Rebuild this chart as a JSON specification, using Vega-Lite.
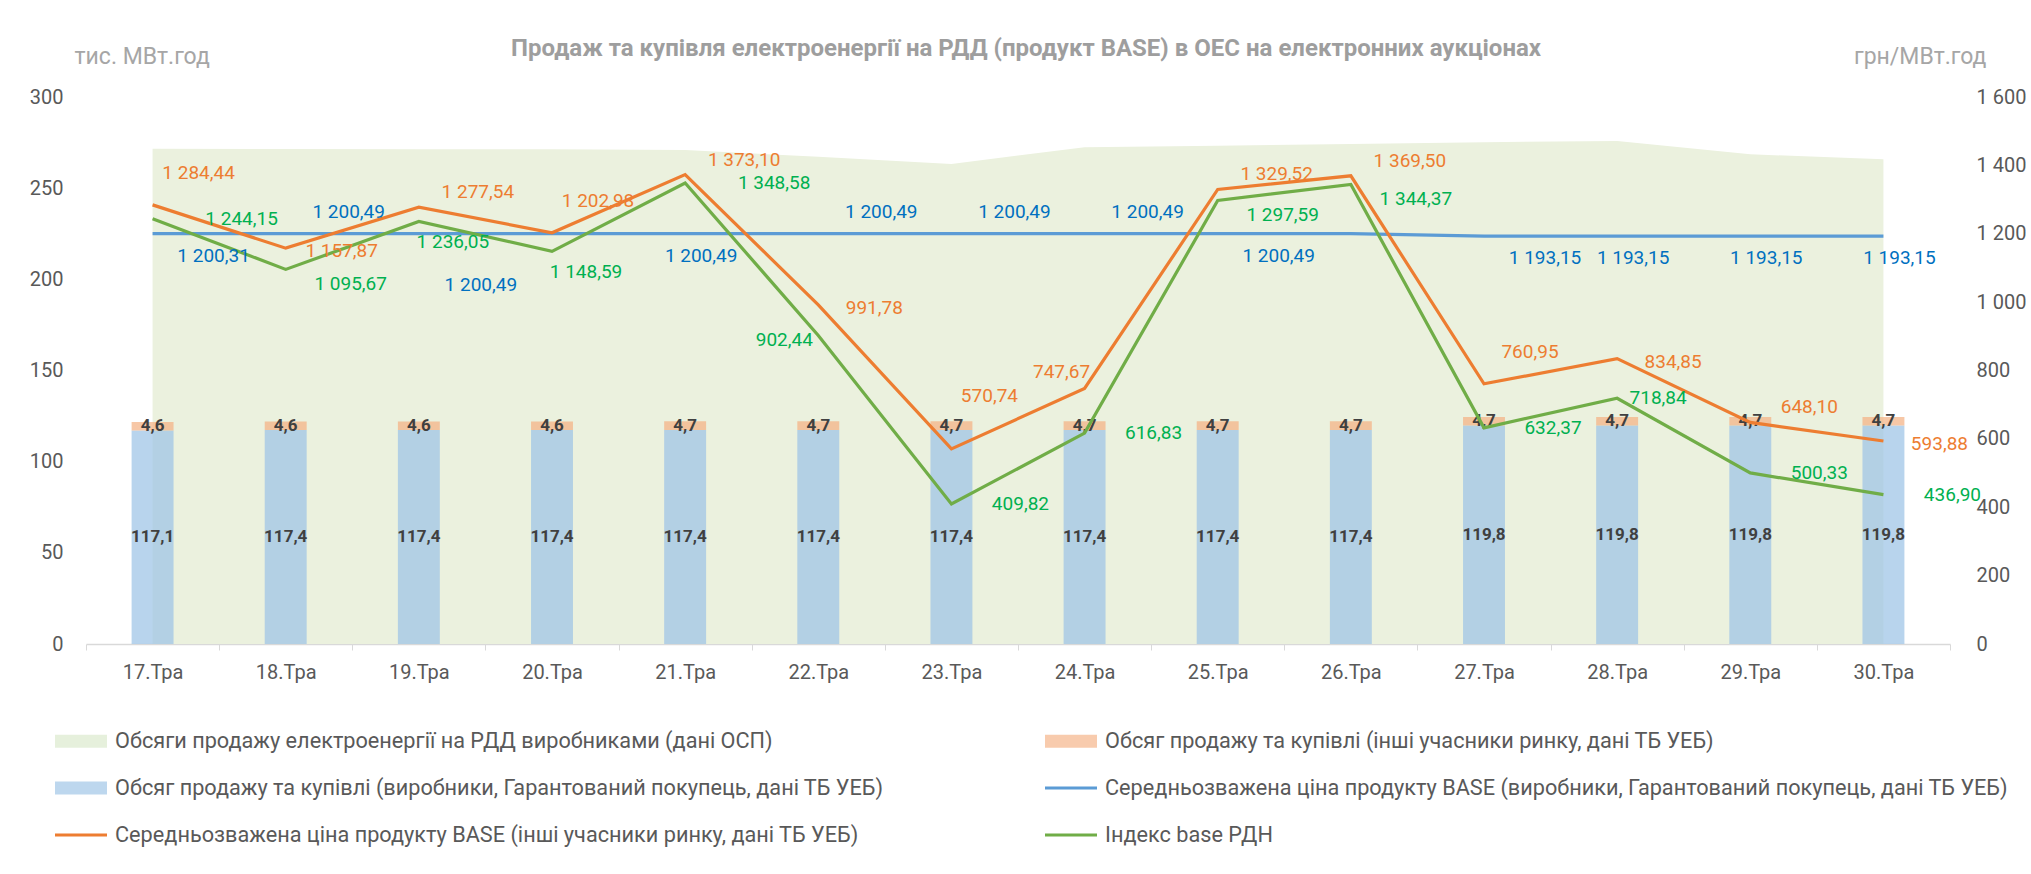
{
 "$schema": "https://vega.github.io/schema/vega-lite/v6.json",
 "autosize": {"type": "none"},
 "width": 1864,
 "height": 547,
 "padding": {"left": 86, "top": 97, "right": 81, "bottom": 230},
 "background": "white",
 "config": {
  "font": "Roboto",
  "locale": {"number": {"decimal": ",", "thousands": " ", "grouping": [3], "currency": ["", ""]}},
  "view": {"stroke": null},
  "axis": {"labelFont": "Roboto", "labelFontSize": 20, "labelColor": "#595959", "grid": false, "ticks": false, "domain": false},
  "text": {"font": "Roboto", "fontSize": 19}
 },
 "title": {"text": "Продаж та купівля електроенергії на РДД (продукт BASE) в ОЕС на електронних аукціонах", "fontSize": 24, "fontWeight": "bold", "color": "#9E9E9E", "anchor": "middle", "offset": -16, "dx": 8, "font": "Roboto"},
 "datasets": {
  "main": [
   {"d": "17.Тра", "osp": 271.6, "prod": 117.1, "rest": 4.6, "p_prod": 1200.31, "p_rest": 1284.44, "rdn": 1244.15},
   {"d": "18.Тра", "osp": 271.5, "prod": 117.4, "rest": 4.6, "p_prod": 1200.49, "p_rest": 1157.87, "rdn": 1095.67},
   {"d": "19.Тра", "osp": 271.4, "prod": 117.4, "rest": 4.6, "p_prod": 1200.49, "p_rest": 1277.54, "rdn": 1236.05},
   {"d": "20.Тра", "osp": 271.3, "prod": 117.4, "rest": 4.6, "p_prod": 1200.49, "p_rest": 1202.98, "rdn": 1148.59},
   {"d": "21.Тра", "osp": 271.0, "prod": 117.4, "rest": 4.7, "p_prod": 1200.49, "p_rest": 1373.10, "rdn": 1348.58},
   {"d": "22.Тра", "osp": 267.2, "prod": 117.4, "rest": 4.7, "p_prod": 1200.49, "p_rest": 991.78, "rdn": 902.44},
   {"d": "23.Тра", "osp": 263.3, "prod": 117.4, "rest": 4.7, "p_prod": 1200.49, "p_rest": 570.74, "rdn": 409.82},
   {"d": "24.Тра", "osp": 272.4, "prod": 117.4, "rest": 4.7, "p_prod": 1200.49, "p_rest": 747.67, "rdn": 616.83},
   {"d": "25.Тра", "osp": 273.3, "prod": 117.4, "rest": 4.7, "p_prod": 1200.49, "p_rest": 1329.52, "rdn": 1297.59},
   {"d": "26.Тра", "osp": 274.2, "prod": 117.4, "rest": 4.7, "p_prod": 1200.49, "p_rest": 1369.50, "rdn": 1344.37},
   {"d": "27.Тра", "osp": 275.2, "prod": 119.8, "rest": 4.7, "p_prod": 1193.15, "p_rest": 760.95, "rdn": 632.37},
   {"d": "28.Тра", "osp": 275.9, "prod": 119.8, "rest": 4.7, "p_prod": 1193.15, "p_rest": 834.85, "rdn": 718.84},
   {"d": "29.Тра", "osp": 268.6, "prod": 119.8, "rest": 4.7, "p_prod": 1193.15, "p_rest": 648.10, "rdn": 500.33},
   {"d": "30.Тра", "osp": 265.8, "prod": 119.8, "rest": 4.7, "p_prod": 1193.15, "p_rest": 593.88, "rdn": 436.90}
  ],
  "keys": [{"s": "osp"}, {"s": "prod"}, {"s": "p_rest"}, {"s": "rest"}, {"s": "p_prod"}, {"s": "rdn"}]
 },
 "data": {"name": "main"},
 "layer": [
  {
   "layer": [
    {
     "mark": {"type": "area", "color": "#EBF1DE", "opacity": 1},
     "encoding": {
      "x": {"field": "d", "type": "ordinal", "sort": null, "bandPosition": 0.5,
       "scale": {"type": "band", "domain": ["17.Тра","18.Тра","19.Тра","20.Тра","21.Тра","22.Тра","23.Тра","24.Тра","25.Тра","26.Тра","27.Тра","28.Тра","29.Тра","30.Тра"], "paddingInner": 0, "paddingOuter": 0},
       "axis": {"title": null, "labelAngle": 0, "domain": true, "domainColor": "#D9D9D9", "domainWidth": 1.5, "ticks": true, "tickColor": "#D9D9D9", "tickSize": 6, "tickBand": "extent", "labelPadding": 12, "labelFontSize": 20}},
      "y": {"field": "osp", "type": "quantitative",
       "scale": {"domain": [0, 300], "nice": false},
       "axis": {"orient": "left", "title": "тис. МВт.год", "values": [0, 50, 100, 150, 200, 250, 300], "labelPadding": 23, "titleAngle": 0, "titleX": -12, "titleY": -34, "titleAlign": "left", "titleBaseline": "alphabetic", "titleFontSize": 23, "titleFontWeight": "normal", "titleColor": "#A6A6A6", "titleFont": "Roboto"}}
     }
    },
    {
     "transform": [{"fold": ["prod", "rest"], "as": ["s", "v"]}],
     "mark": {"type": "bar", "width": {"band": 0.315}, "opacity": 0.72},
     "encoding": {
      "x": {"field": "d", "type": "ordinal"},
      "y": {"field": "v", "type": "quantitative", "stack": "zero"},
      "color": {"field": "s", "type": "nominal",
       "scale": {"domain": ["prod", "rest", "p_prod", "p_rest", "rdn"], "range": ["#9DC3E6", "#F4B183", "#5B9BD5", "#ED7D31", "#70AD47"]},
       "legend": null},
      "order": {"field": "s", "sort": "ascending"}
     }
    },
    {
     "transform": [{"calculate": "datum.prod / 2", "as": "ym"}],
     "mark": {"type": "text", "fontWeight": "bold", "fontSize": 17, "color": "#404040"},
     "encoding": {
      "x": {"field": "d", "type": "ordinal", "bandPosition": 0.5},
      "y": {"field": "ym", "type": "quantitative"},
      "text": {"field": "prod", "type": "quantitative", "format": ".1f"}
     }
    },
    {
     "transform": [{"calculate": "datum.prod + datum.rest / 2", "as": "ym"}],
     "mark": {"type": "text", "fontWeight": "bold", "fontSize": 17, "color": "#404040"},
     "encoding": {
      "x": {"field": "d", "type": "ordinal", "bandPosition": 0.5},
      "y": {"field": "ym", "type": "quantitative"},
      "text": {"field": "rest", "type": "quantitative", "format": ".1f"}
     }
    },
    {
     "data": {"name": "keys"},
     "mark": {"type": "point", "filled": true, "opacity": 0},
     "encoding": {
      "fill": {"field": "s", "type": "nominal",
       "scale": {"domain": ["osp", "prod", "p_rest", "rest", "p_prod", "rdn"], "range": ["#E6F0DC", "#BDD7EE", "#ED7D31", "#F8CBAD", "#5B9BD5", "#70AD47"]},
       "legend": {"orient": "none", "legendX": -18, "legendY": 631, "columns": 2, "columnPadding": 161, "rowPadding": 22, "title": null, "labelFontSize": 21.7, "labelColor": "#595959", "labelFont": "Roboto", "labelLimit": 1200, "labelOffset": 21, "symbolSize": 676, "symbolStrokeWidth": 0, "symbolOpacity": 1, "padding": 0,
        "labelExpr": "datum.label == 'osp' ? 'Обсяги продажу електроенергії на РДД виробниками (дані ОСП)' : datum.label == 'rest' ? 'Обсяг продажу та купівлі (інші учасники ринку, дані ТБ УЕБ)' : datum.label == 'prod' ? 'Обсяг продажу та купівлі (виробники, Гарантований покупець, дані ТБ УЕБ)' : datum.label == 'p_prod' ? 'Середньозважена ціна продукту BASE (виробники, Гарантований покупець, дані ТБ УЕБ)' : datum.label == 'p_rest' ? 'Середньозважена ціна продукту BASE (інші учасники ринку,  дані ТБ УЕБ)' : 'Індекс base РДН'"}},
      "shape": {"field": "s", "type": "nominal",
       "scale": {"domain": ["osp", "prod", "p_rest", "rest", "p_prod", "rdn"], "range": ["M-2,-0.5L2,-0.5L2,0.5L-2,0.5Z", "M-2,-0.5L2,-0.5L2,0.5L-2,0.5Z", "M-2,-0.12L2,-0.12L2,0.12L-2,0.12Z", "M-2,-0.5L2,-0.5L2,0.5L-2,0.5Z", "M-2,-0.12L2,-0.12L2,0.12L-2,0.12Z", "M-2,-0.12L2,-0.12L2,0.12L-2,0.12Z"]},
       "legend": {"orient": "none", "legendX": -18, "legendY": 631, "columns": 2, "columnPadding": 161, "rowPadding": 22, "title": null, "labelFontSize": 21.7, "labelColor": "#595959", "labelFont": "Roboto", "labelLimit": 1200, "labelOffset": 21, "symbolSize": 676, "symbolStrokeWidth": 0, "symbolOpacity": 1, "padding": 0,
        "labelExpr": "datum.label == 'osp' ? 'Обсяги продажу електроенергії на РДД виробниками (дані ОСП)' : datum.label == 'rest' ? 'Обсяг продажу та купівлі (інші учасники ринку, дані ТБ УЕБ)' : datum.label == 'prod' ? 'Обсяг продажу та купівлі (виробники, Гарантований покупець, дані ТБ УЕБ)' : datum.label == 'p_prod' ? 'Середньозважена ціна продукту BASE (виробники, Гарантований покупець, дані ТБ УЕБ)' : datum.label == 'p_rest' ? 'Середньозважена ціна продукту BASE (інші учасники ринку,  дані ТБ УЕБ)' : 'Індекс base РДН'"}}
     }
    }
   ]
  },
  {
   "layer": [
    {
     "transform": [{"fold": ["p_prod", "p_rest", "rdn"], "as": ["s", "v"]}],
     "mark": {"type": "line", "strokeWidth": 3.2},
     "encoding": {
      "x": {"field": "d", "type": "ordinal", "bandPosition": 0.5},
      "y": {"field": "v", "type": "quantitative",
       "scale": {"domain": [0, 1600], "nice": false},
       "axis": {"orient": "right", "title": "грн/МВт.год", "values": [0, 200, 400, 600, 800, 1000, 1200, 1400, 1600], "format": ",d", "labelPadding": 26, "titleAngle": 0, "titleX": 36, "titleY": -34, "titleAlign": "right", "titleBaseline": "alphabetic", "titleFontSize": 23, "titleFontWeight": "normal", "titleColor": "#A6A6A6", "titleFont": "Roboto"}},
      "color": {"field": "s", "type": "nominal", "legend": null}
     }
    },
    {"transform": [{"filter": {"field": "d", "oneOf": ["18.Тра","22.Тра","23.Тра","24.Тра"]}}],
     "mark": {"type": "text", "color": "#0070C0", "dx": 63, "dy": -22},
     "encoding": {"x": {"field": "d", "type": "ordinal", "bandPosition": 0.5}, "y": {"field": "p_prod", "type": "quantitative"}, "text": {"field": "p_prod", "type": "quantitative", "format": ",.2f"}}},
    {"transform": [{"filter": {"field": "d", "oneOf": ["17.Тра","25.Тра","27.Тра"]}}],
     "mark": {"type": "text", "color": "#0070C0", "dx": 61, "dy": 22},
     "encoding": {"x": {"field": "d", "type": "ordinal", "bandPosition": 0.5}, "y": {"field": "p_prod", "type": "quantitative"}, "text": {"field": "p_prod", "type": "quantitative", "format": ",.2f"}}},
    {"transform": [{"filter": {"field": "d", "oneOf": ["19.Тра"]}}],
     "mark": {"type": "text", "color": "#0070C0", "dx": 62, "dy": 51},
     "encoding": {"x": {"field": "d", "type": "ordinal", "bandPosition": 0.5}, "y": {"field": "p_prod", "type": "quantitative"}, "text": {"field": "p_prod", "type": "quantitative", "format": ",.2f"}}},
    {"transform": [{"filter": {"field": "d", "oneOf": ["21.Тра","28.Тра","29.Тра","30.Тра"]}}],
     "mark": {"type": "text", "color": "#0070C0", "dx": 16, "dy": 22},
     "encoding": {"x": {"field": "d", "type": "ordinal", "bandPosition": 0.5}, "y": {"field": "p_prod", "type": "quantitative"}, "text": {"field": "p_prod", "type": "quantitative", "format": ",.2f"}}},
    {"transform": [{"filter": {"field": "d", "oneOf": ["17.Тра","20.Тра","27.Тра"]}}],
     "mark": {"type": "text", "color": "#ED7D31", "dx": 46, "dy": -32},
     "encoding": {"x": {"field": "d", "type": "ordinal", "bandPosition": 0.5}, "y": {"field": "p_rest", "type": "quantitative"}, "text": {"field": "p_rest", "type": "quantitative", "format": ",.2f"}}},
    {"transform": [{"filter": {"field": "d", "oneOf": ["23.Тра"]}}],
     "mark": {"type": "text", "color": "#ED7D31", "dx": 38, "dy": -53},
     "encoding": {"x": {"field": "d", "type": "ordinal", "bandPosition": 0.5}, "y": {"field": "p_rest", "type": "quantitative"}, "text": {"field": "p_rest", "type": "quantitative", "format": ",.2f"}}},
    {"transform": [{"filter": {"field": "d", "oneOf": ["19.Тра","21.Тра","25.Тра","26.Тра","29.Тра"]}}],
     "mark": {"type": "text", "color": "#ED7D31", "dx": 59, "dy": -15},
     "encoding": {"x": {"field": "d", "type": "ordinal", "bandPosition": 0.5}, "y": {"field": "p_rest", "type": "quantitative"}, "text": {"field": "p_rest", "type": "quantitative", "format": ",.2f"}}},
    {"transform": [{"filter": {"field": "d", "oneOf": ["18.Тра","22.Тра","28.Тра","30.Тра"]}}],
     "mark": {"type": "text", "color": "#ED7D31", "dx": 56, "dy": 3},
     "encoding": {"x": {"field": "d", "type": "ordinal", "bandPosition": 0.5}, "y": {"field": "p_rest", "type": "quantitative"}, "text": {"field": "p_rest", "type": "quantitative", "format": ",.2f"}}},
    {"transform": [{"filter": {"field": "d", "oneOf": ["24.Тра"]}}],
     "mark": {"type": "text", "color": "#ED7D31", "dx": -23, "dy": -16},
     "encoding": {"x": {"field": "d", "type": "ordinal", "bandPosition": 0.5}, "y": {"field": "p_rest", "type": "quantitative"}, "text": {"field": "p_rest", "type": "quantitative", "format": ",.2f"}}},
    {"transform": [{"filter": {"field": "d", "oneOf": ["17.Тра","21.Тра"]}}],
     "mark": {"type": "text", "color": "#00B050", "dx": 89, "dy": 0},
     "encoding": {"x": {"field": "d", "type": "ordinal", "bandPosition": 0.5}, "y": {"field": "rdn", "type": "quantitative"}, "text": {"field": "rdn", "type": "quantitative", "format": ",.2f"}}},
    {"transform": [{"filter": {"field": "d", "oneOf": ["23.Тра","24.Тра","27.Тра","29.Тра","30.Тра"]}}],
     "mark": {"type": "text", "color": "#00B050", "dx": 69, "dy": 0},
     "encoding": {"x": {"field": "d", "type": "ordinal", "bandPosition": 0.5}, "y": {"field": "rdn", "type": "quantitative"}, "text": {"field": "rdn", "type": "quantitative", "format": ",.2f"}}},
    {"transform": [{"filter": {"field": "d", "oneOf": ["18.Тра","25.Тра","26.Тра"]}}],
     "mark": {"type": "text", "color": "#00B050", "dx": 65, "dy": 15},
     "encoding": {"x": {"field": "d", "type": "ordinal", "bandPosition": 0.5}, "y": {"field": "rdn", "type": "quantitative"}, "text": {"field": "rdn", "type": "quantitative", "format": ",.2f"}}},
    {"transform": [{"filter": {"field": "d", "oneOf": ["19.Тра","20.Тра"]}}],
     "mark": {"type": "text", "color": "#00B050", "dx": 34, "dy": 21},
     "encoding": {"x": {"field": "d", "type": "ordinal", "bandPosition": 0.5}, "y": {"field": "rdn", "type": "quantitative"}, "text": {"field": "rdn", "type": "quantitative", "format": ",.2f"}}},
    {"transform": [{"filter": {"field": "d", "oneOf": ["28.Тра"]}}],
     "mark": {"type": "text", "color": "#00B050", "dx": 41, "dy": 0},
     "encoding": {"x": {"field": "d", "type": "ordinal", "bandPosition": 0.5}, "y": {"field": "rdn", "type": "quantitative"}, "text": {"field": "rdn", "type": "quantitative", "format": ",.2f"}}},
    {"transform": [{"filter": {"field": "d", "oneOf": ["22.Тра"]}}],
     "mark": {"type": "text", "color": "#00B050", "dx": -34, "dy": 5},
     "encoding": {"x": {"field": "d", "type": "ordinal", "bandPosition": 0.5}, "y": {"field": "rdn", "type": "quantitative"}, "text": {"field": "rdn", "type": "quantitative", "format": ",.2f"}}}
   ]
  }
 ],
 "resolve": {"scale": {"y": "independent"}}
}
